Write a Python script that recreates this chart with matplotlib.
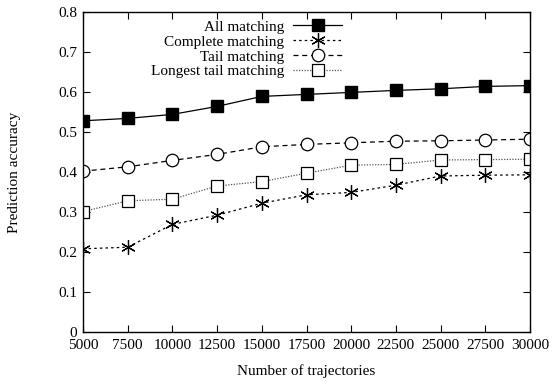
import matplotlib
matplotlib.use("Agg")
import matplotlib.pyplot as plt

plt.rcParams.update({
    "font.family": ["Liberation Serif", "DejaVu Serif"],
    "font.size": 11,
    "axes.linewidth": 1.0,
    "xtick.direction": "in",
    "ytick.direction": "in",
    "xtick.top": True,
    "ytick.right": True,
    "xtick.major.size": 5,
    "ytick.major.size": 5,
})

trajectories = [5000, 7500, 10000, 12500, 15000, 17500, 20000, 22500, 25000, 27500, 30000]
all_matching = [0.528, 0.534, 0.544, 0.564, 0.589, 0.594, 0.599, 0.604, 0.608, 0.614, 0.616]
complete_matching = [0.208, 0.212, 0.269, 0.292, 0.322, 0.343, 0.349, 0.367, 0.390, 0.392, 0.393]
tail_matching = [0.402, 0.413, 0.429, 0.444, 0.463, 0.469, 0.473, 0.477, 0.478, 0.480, 0.482]
longest_tail_matching = [0.301, 0.328, 0.332, 0.365, 0.376, 0.397, 0.417, 0.419, 0.430, 0.431, 0.432]

fig = plt.figure(figsize=(5.56, 3.84), dpi=100)
ax = fig.add_axes([83 / 556, 52 / 384, 447 / 556, 320 / 384])

ax.plot(trajectories, all_matching, color="black", lw=0.9, marker="s", ms=8,
        mfc="black", mec="black", label="All matching")
ax.plot(trajectories, complete_matching, color="black", lw=0.9, dashes=(2, 2.5),
        marker=(6, 2, 0), ms=10.5, mew=0.9, label="Complete matching")
ax.plot(trajectories, tail_matching, color="black", lw=0.9, dashes=(4, 3),
        marker="o", ms=9, mfc="white", mec="black", mew=0.9, label="Tail matching")
ax.plot(trajectories, longest_tail_matching, color="#555555", lw=0.9, dashes=(1, 1.2),
        marker="s", ms=9, mfc="white", mec="black", mew=0.9, label="Longest tail matching")

ax.set_xlim(5000, 30000)
ax.set_ylim(0, 0.8)
ax.set_xticks(trajectories)
ax.set_xticklabels([str(t) for t in trajectories])
ax.set_yticks([0, 0.1, 0.2, 0.3, 0.4, 0.5, 0.6, 0.7, 0.8])
ax.set_yticklabels(["0", "0.1", "0.2", "0.3", "0.4", "0.5", "0.6", "0.7", "0.8"])
ax.tick_params(axis="x", pad=5)
ax.tick_params(axis="y", pad=4)
ax.set_xlabel("Number of trajectories", labelpad=9)
ax.set_ylabel("Prediction accuracy", labelpad=27)

leg = ax.legend(loc="upper right", bbox_to_anchor=(342 / 556, (384 - 20) / 384),
                bbox_transform=fig.transFigure, frameon=False,
                markerfirst=False, handlelength=3.2, handletextpad=0.6,
                labelspacing=0.08, borderpad=0, borderaxespad=0)
for t in leg.get_texts():
    t.set_ha("right")
leg._legend_box.align = "right"

fig.savefig("out.png", dpi=100)
